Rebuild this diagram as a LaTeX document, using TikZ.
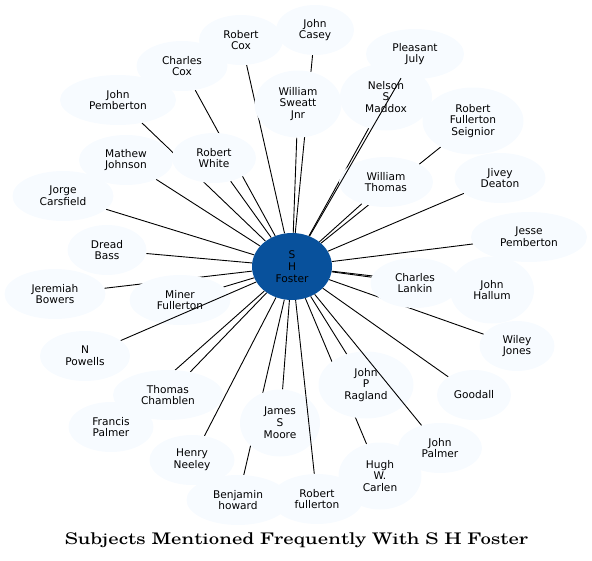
\documentclass[tikz,border=0pt]{standalone}
\usepackage{fontspec}
\newfontfamily\namefont{DejaVu Sans}
\newfontfamily\titlefont{TeX Gyre Schola}
\usetikzlibrary{shapes.geometric,backgrounds}
\definecolor{hubblue}{HTML}{08519C}
\definecolor{leafblue}{HTML}{F7FBFF}
\tikzset{
  person/.style={ellipse, fill=leafblue, inner sep=0pt, minimum height=50pt,
    align=center, font=\namefont\fontsize{10.6}{11.8}\selectfont},
  tall/.style={minimum height=67pt},
  link/.style={draw=black, line width=0.9pt}
}
\begin{document}
\begin{tikzpicture}[x=1pt,y=-1pt]
\useasboundingbox (0,0) rectangle (592,560);
% hub
\node[person, fill=hubblue, minimum width=80pt, tall] (foster) at (292,266.5) {S\\H\\Foster};
% names round the hub
\node[person, minimum width=84pt] (rcox) at (241,40) {Robert\\Cox};
\node[person, minimum width=78pt] (jcasey) at (315,30) {John\\Casey};
\node[person, minimum width=91pt] (ccox) at (182,66) {Charles\\Cox};
\node[person, minimum width=116pt] (jpemberton) at (118,100) {John\\Pemberton};
\node[person, minimum width=87pt, tall] (wsweatt) at (298,104) {William\\Sweatt\\Jnr};
\node[person, minimum width=98pt] (pjuly) at (415,54) {Pleasant\\July};
\node[person, minimum width=92pt, tall] (nmaddox) at (386,97) {Nelson\\S\\Maddox};
\node[person, minimum width=101pt, tall] (rfseignior) at (473,121) {Robert\\Fullerton\\Seignior};
\node[person, minimum width=84pt] (rwhite) at (214,158) {Robert\\White};
\node[person, minimum width=94pt] (mjohnson) at (126,160) {Mathew\\Johnson};
\node[person, minimum width=101pt] (jcarsfield) at (63,196) {Jorge\\Carsfield};
\node[person, minimum width=94pt] (wthomas) at (386,182) {William\\Thomas};
\node[person, minimum width=91pt] (jdeaton) at (500,178) {Jivey\\Deaton};
\node[person, minimum width=116pt] (jesse) at (529,237) {Jesse\\Pemberton};
\node[person, minimum width=79pt] (dbass) at (107,250) {Dread\\Bass};
\node[person, minimum width=101pt] (jbowers) at (55,294) {Jeremiah\\Bowers};
\node[person, minimum width=101pt] (mfullerton) at (180,300) {Miner\\Fullerton};
\node[person, minimum width=84pt, tall] (jhallum) at (492,290) {John\\Hallum};
\node[person, minimum width=89pt] (clankin) at (415,283) {Charles\\Lankin};
\node[person, minimum width=75pt] (wjones) at (517,346) {Wiley\\Jones};
\node[person, minimum width=90pt] (npowells) at (85,356) {N\\Powells};
\node[person, minimum width=85pt] (fpalmer) at (111,427) {Francis\\Palmer};
\node[person, minimum width=110pt] (tchamblen) at (168,395) {Thomas\\Chamblen};
\node[person, minimum width=95pt, tall] (jragland) at (366,385) {John\\P\\Ragland};
\node[person, minimum width=74pt] (goodall) at (474,395) {Goodall};
\node[person, minimum width=85pt] (hneeley) at (192,460) {Henry\\Neeley};
\node[person, minimum width=84pt] (jpalmer) at (440,448) {John\\Palmer};
\node[person, minimum width=83pt, tall] (hcarlen) at (380,476) {Hugh\\W.\\Carlen};
\node[person, minimum width=103pt] (bhoward) at (238,500) {Benjamin\\howard};
\node[person, minimum width=92pt] (rfullerton) at (317,499) {Robert\\fullerton};
\node[person, minimum width=80pt, tall] (jsmoore) at (280,423) {James\\S\\Moore};
% links under the names
\begin{pgfonlayer}{background}
\foreach \who in {rcox,jcasey,ccox,jpemberton,wsweatt,nmaddox,rfseignior,rwhite,
  mjohnson,jcarsfield,wthomas,jdeaton,jesse,dbass,jbowers,mfullerton,jhallum,
  clankin,wjones,fpalmer,tchamblen,jragland,goodall,hneeley,hcarlen,bhoward,
  jsmoore}
  \draw[link] (foster) -- (\who);
\end{pgfonlayer}
% links over the names
\foreach \who in {pjuly,npowells,jpalmer,rfullerton}
  \draw[link] (foster) -- (\who);
% title
\node[anchor=base, font=\titlefont\fontsize{16}{18}\selectfont] (title) at (296.5,544) {\scalebox{1.3}[1]{Subjects Mentioned Frequently With S H Foster}};
\end{tikzpicture}
\end{document}
